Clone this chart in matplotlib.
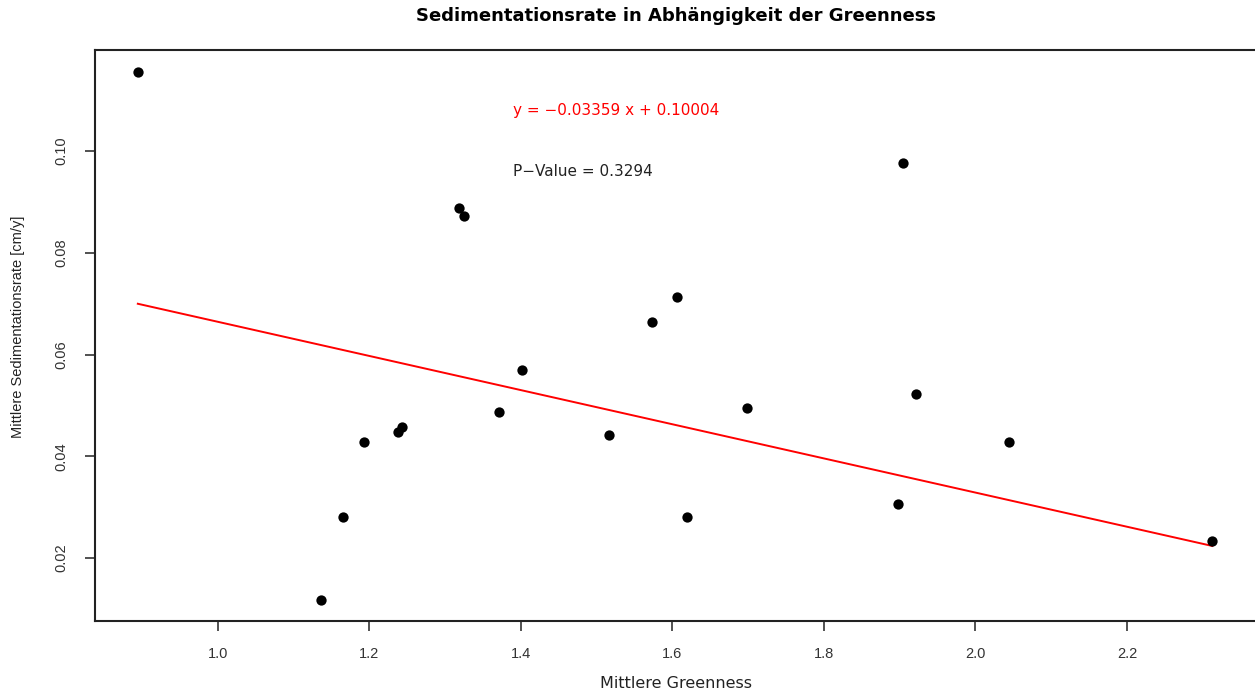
import matplotlib
matplotlib.use("Agg")
import matplotlib.pyplot as plt
import numpy as np

# mean greenness vs. mean sedimentation rate
greenness = [0.8945, 1.136, 1.165, 1.193, 1.2375, 1.243, 1.318, 1.3245, 1.371, 1.401,
             1.517, 1.5726, 1.6055, 1.619, 1.699, 1.898, 1.904, 1.921, 2.045, 2.3127]
sed_rate = [0.1155, 0.0117, 0.0281, 0.0428, 0.0448, 0.0457, 0.0888, 0.0872, 0.0487, 0.0569,
            0.0442, 0.0664, 0.0713, 0.0281, 0.0495, 0.0306, 0.0976, 0.0522, 0.0428, 0.0233]

slope = -0.03359
intercept = 0.10004
p_value = 0.3294

x_ticks = [1.0, 1.2, 1.4, 1.6, 1.8, 2.0, 2.2]
y_ticks = [0.02, 0.04, 0.06, 0.08, 0.10]

plt.rcParams.update({
    "font.family": ["Liberation Sans", "DejaVu Sans"],
    "axes.edgecolor": "#222222",
})
WIDE = ["DejaVu Sans"]  # the reference's horizontal text is rendered wide

W, H = 1255, 693
fig = plt.figure(figsize=(W / 100, H / 100), dpi=100)
# right edge of the plot box sits just outside the image, as in the reference
ax = fig.add_axes([95 / W, 1 - 621 / H, (1258 - 95) / W, (621 - 50) / H])

ax.scatter(greenness, sed_rate, s=55, color="black", zorder=3, linewidths=0)

xs = np.array([min(greenness), max(greenness)])
ax.plot(xs, slope * xs + intercept, color="red", linewidth=1.4, zorder=2)

ax.text(1.39, 0.108, f"y = \u2212{abs(slope)} x + {intercept:.5f}", color="red",
        fontsize=11, va="center", ha="left", family=WIDE)
ax.text(1.39, 0.096, f"P\u2212Value = {p_value}", color="#222222",
        fontsize=11, va="center", ha="left", family=WIDE)

ax.set_xlim(0.838, 2.373)
ax.set_ylim(0.0076, 0.1199)
ax.set_xticks(x_ticks)
ax.set_xticklabels([f"{v:.1f}" for v in x_ticks])
ax.set_yticks(y_ticks)
ax.set_yticklabels([f"{v:.2f}" for v in y_ticks], rotation=90, va="center")
ax.tick_params(length=7, width=1.2, labelsize=10.5, pad=12, colors="#333333")
for spine in ax.spines.values():
    spine.set_linewidth(1.5)

fig.text(676 / W, 1 - 16 / H, "Sedimentationsrate in Abhängigkeit der Greenness",
         ha="center", va="center", fontsize=13, fontweight="bold", family=WIDE)
fig.text(676 / W, 1 - 684 / H, "Mittlere Greenness", ha="center", va="center",
         fontsize=11.5, color="#222222", family=WIDE)
fig.text(18 / W, 1 - 327 / H, "Mittlere Sedimentationsrate [cm/y]", ha="center",
         va="center", rotation=90, fontsize=10.5, color="#222222")

fig.savefig("out.png", dpi=100)
